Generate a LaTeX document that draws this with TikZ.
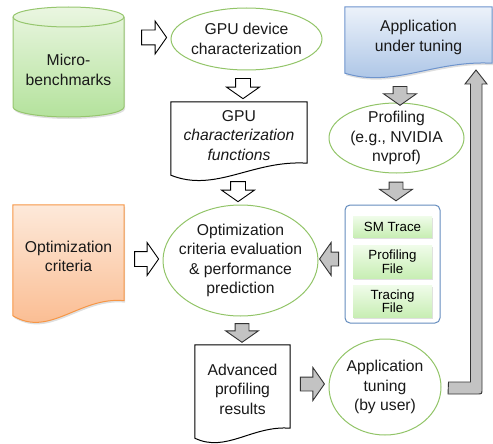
\documentclass[tikz,border=0pt]{standalone}
\usepackage{fontspec}
\setmainfont{Liberation Sans}
\usetikzlibrary{shapes, shapes.arrows, shadows, calc, backgrounds}
\definecolor{ellgreen}{RGB}{146,196,104}
\definecolor{benchtop}{RGB}{234,246,225}
\definecolor{benchbot}{RGB}{180,226,156}
\definecolor{benchline}{RGB}{150,198,110}
\definecolor{opttop}{RGB}{253,233,218}
\definecolor{optbot}{RGB}{250,184,138}
\definecolor{optline}{RGB}{246,150,70}
\definecolor{apptop}{RGB}{236,242,250}
\definecolor{appbot}{RGB}{165,192,228}
\definecolor{appline}{RGB}{110,148,205}
\definecolor{boxline}{RGB}{100,140,190}
\definecolor{celltop}{RGB}{240,252,234}
\definecolor{cellbot}{RGB}{200,238,180}
\definecolor{arrgray}{RGB}{195,195,195}
\tikzstyle{txt}=[font=\fontsize{15.7}{19.5}\selectfont, align=center, text=black!90]
\tikzstyle{ellip}=[ellipse, draw=ellgreen, line width=1pt, inner sep=-8pt, txt]
\tikzstyle{docnode}=[rectangle, inner sep=0pt, txt]
\tikzstyle{softshadow}=[drop shadow={shadow xshift=1pt, shadow yshift=-2pt, opacity=0.25}]
\tikzstyle{cell}=[rectangle, top color=celltop, bottom color=cellbot, minimum width=79pt, inner sep=0pt, align=center, font=\fontsize{13.3}{13.5}\selectfont, softshadow]
\tikzstyle{warrow}=[single arrow, draw=black, fill=white, line width=0.9pt, inner sep=7pt, single arrow head extend=9pt, single arrow tip angle=110, minimum height=24pt]
\tikzstyle{garrow}=[warrow, fill=arrgray, draw=black!80, inner sep=6.5pt, single arrow head extend=9.5pt]
% document outline with a wavy bottom, drawn round a node
\newcommand{\docshape}[3]{%
  \path[#2] (#1.north west) -- (#1.north east)
    -- ($(#1.south east)+(0pt,{0.5*#3pt})$)
    .. controls ($(#1.south east)!0.4!(#1.south west)+(0pt,{0.8*#3pt})$)
    and ($(#1.south west)!0.33!(#1.south east)+(0pt,{-2*#3pt})$)
    .. ($(#1.south west)+(0pt,{-0.5*#3pt})$) -- cycle;}

\begin{document}
\begin{tikzpicture}[x=1pt, y=-1pt]
	\useasboundingbox (0,0) rectangle (493,444);
	% left column
	\node[txt] (bench) at (68.5,70) {Micro-\\benchmarks};
	\node[docnode, minimum width=111pt, minimum height=103pt] (opt) at (68.5,256.5) {Optimization\\criteria};
	% middle column
	\node[ellip, minimum width=151pt, minimum height=62pt] (gpuchar) at (246.5,39) {GPU device\\characterization};
	\node[docnode, minimum width=136pt, minimum height=67pt] (gpufun) at (239,135.5) {GPU\\\textit{characterization}\\\textit{functions}};
	\node[ellip, minimum width=155pt, minimum height=111pt] (evalc) at (240.5,260.5) {Optimization\\criteria evaluation\\\& performance\\prediction};
	\node[docnode, minimum width=95pt, minimum height=88pt] (adv) at (242.5,389) {Advanced\\profiling\\results};
	% right column
	\node[docnode, minimum width=147pt, minimum height=61pt] (app) at (418.5,37.5) {Application\\under tuning};
	\node[ellip, minimum width=135pt, minimum height=70pt] (prof) at (396.5,138) {Profiling\\(e.g., NVIDIA\\nvprof)};
	\node[draw=boxline, line width=1pt, rounded corners=5pt, fill=white, minimum width=95pt, minimum height=118pt] (traces) at (392.5,264) {};
	\node[cell, minimum height=21pt] (smtrace) at (392.5,226.5) {SM Trace};
	\node[cell, minimum height=33pt] (proffile) at (392.5,261.5) {Profiling\\File};
	\node[cell, minimum height=32pt] (tracefile) at (392.5,301) {Tracing\\File};
	\node[ellip, minimum width=112pt, minimum height=96pt] (tune) at (385,387) {Application\\tuning\\(by user)};
	% block arrows
	\node[warrow, minimum height=25pt] (a1) at (151.5,37.5) {};
	\node[warrow, rotate=-90, minimum height=17pt] (a2) at (243,86) {};
	\node[warrow, rotate=-90, minimum height=18pt] (a3) at (238,189) {};
	\node[warrow] (a9) at (144,259) {};
	\node[garrow, rotate=-90, minimum height=17pt] (a4) at (242,330.5) {};
	\node[garrow] (a5) at (310,384) {};
	\node[garrow, rotate=-90, minimum height=17pt] (a6) at (400,93.5) {};
	\node[garrow, rotate=-90, minimum height=18pt] (a7) at (396,189) {};
	\node[garrow, rotate=180, minimum height=19pt] (a8) at (331.5,259) {};
	% feedback arrow from tuning back to the application
	\coordinate (fbstart) at ([xshift=7pt, yshift=5pt]tune.east);
	\draw[fill=arrgray, draw=black!80, line width=0.9pt] (fbstart) -- (470.5,382) -- (470.5,84) -- (465,84) -- (476,70) -- (487,84) -- (482,84) -- (482,389) .. controls (482,394) .. (477,394) -- (448,394) -- cycle;
	\begin{scope}[on background layer]
		\path[top color=benchtop, bottom color=benchbot, draw=benchline, line width=1pt, softshadow] (13,17) -- (13,107) .. controls (13,112.5) and (37.9,117) .. (68.5,117) .. controls (99.1,117) and (124,112.5) .. (124,107) -- (124,17) .. controls (124,11.5) and (99.1,7) .. (68.5,7) .. controls (37.9,7) and (13,11.5) .. (13,17) -- cycle;
		\draw[benchline, line width=1pt] (13,17) .. controls (13,22.5) and (37.9,27) .. (68.5,27) .. controls (99.1,27) and (124,22.5) .. (124,17);
		\docshape{opt}{top color=opttop, bottom color=optbot, draw=optline, line width=1pt, softshadow}{15}
		\docshape{app}{top color=apptop, bottom color=appbot, draw=appline, line width=1pt, softshadow}{10}
		\docshape{gpufun}{fill=white, draw=black, line width=1pt}{12}
		\docshape{adv}{fill=white, draw=black, line width=1pt}{10}
	\end{scope}
\end{tikzpicture}
\end{document}
